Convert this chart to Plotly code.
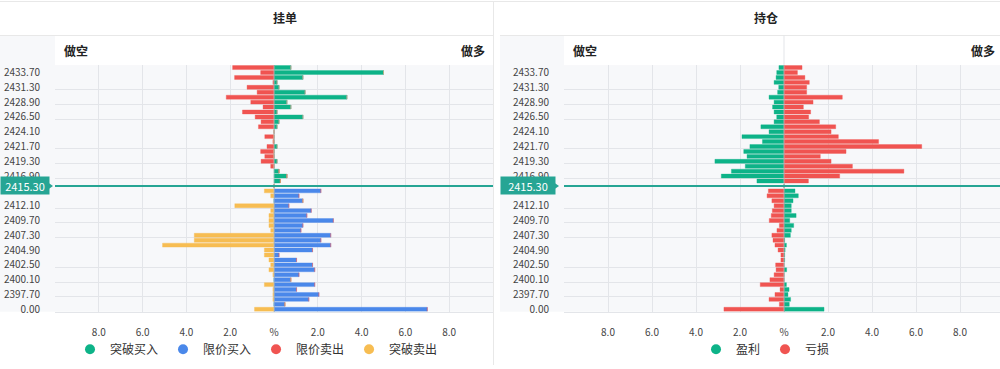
import plotly.graph_objects as go

# ---------------- data ----------------
prices = ["0.00", "2396.10", "2396.90", "2397.70", "2398.50", "2399.30", "2400.10", "2400.90", "2401.70", "2402.50",
          "2403.30", "2404.10", "2404.90", "2405.70", "2406.50", "2407.30", "2408.10", "2408.90", "2409.70", "2410.50",
          "2411.30", "2412.10", "2412.90", "2413.70", "2414.50", "2415.30", "2416.10", "2416.90", "2417.70", "2418.50",
          "2419.30", "2420.10", "2420.90", "2421.70", "2422.50", "2423.30", "2424.10", "2424.90", "2425.70", "2426.50",
          "2427.30", "2428.10", "2428.90", "2429.70", "2430.50", "2431.30", "2432.10", "2432.90", "2433.70", "2434.50"]
current_price = "2415.30"

# 挂单 (orders, % of total)
breakout_buy = [0, 0, 0, 0, 0, 0, 0, 0, 0, 0,
                0, 0, 0, 0, 0, 0, 0, 0, 0, 0,
                0, 0, 0, 0, 0, 0, 0.29, 0.59, 0.23, 0,
                0.14, 0, 0, 0.14, 0, 0, 0, 0.14, 0.23, 1.32,
                0.14, 0.77, 0.59, 3.33, 1.42, 0.23, 0.14, 1.32, 5.0, 0.77]
limit_buy = [7.0, 0.5, 1.59, 2.05, 1.03, 1.86, 0.77, 1.14, 1.86, 1.76,
             1.03, 0.23, 1.76, 2.59, 2.14, 2.59, 1.23, 1.32, 2.71, 1.5,
             1.70, 0.68, 1.32, 1.14, 2.14, 0, 0, 0, 0, 0,
             0, 0, 0, 0, 0, 0, 0, 0, 0, 0,
             0, 0, 0, 0, 0, 0, 0, 0, 0, 0]
limit_sell = [0, 0, 0, 0, 0, 0, 0, 0, 0, 0,
              0, 0, 0, 0, 0, 0, 0, 0, 0, 0,
              0, 0, 0, 0, 0, 0, 0, 0, 0, 0.15,
              0.59, 0.42, 0.61, 0.32, 0.05, 0.42, 0, 0.71, 0.59, 0.86,
              1.44, 0.50, 1.06, 2.18, 0.77, 1.23, 0.05, 1.80, 0.61, 1.89]
breakout_sell = [0.89, 0, 0.05, 0.05, 0.05, 0.44, 0, 0.05, 0.23, 0.15,
                 0.23, 0.44, 0.44, 5.09, 3.64, 3.64, 0.15, 0.23, 0.23, 0.23,
                 0.15, 1.79, 0, 0.15, 0.44, 0, 0, 0, 0, 0,
                 0, 0, 0, 0, 0, 0, 0, 0, 0, 0,
                 0, 0, 0, 0, 0, 0, 0, 0, 0, 0]

# 持仓 (positions, % of total)
profit = [1.82, 0.24, 0.30, 0.18, 0.23, 0.11, 0, 0, 0.12, 0,
          0.03, 0.03, 0.05, 0.11, 0.03, 0.29, 0.33, 0.44, 0.26, 0.55,
          0.33, 0.33, 0.41, 0.65, 0.50, 0, 1.23, 2.85, 2.39, 1.76,
          3.14, 1.68, 1.83, 1.55, 0.98, 1.91, 0.68, 1.05, 0.45, 0.33,
          0.45, 0.52, 0.45, 0.68, 0.29, 0.24, 0.45, 0.36, 0.33, 0.23]
loss = [2.73, 0.21, 0.68, 0.41, 0.18, 1.08, 0.64, 0.45, 0.36, 0.38,
        0.14, 0.14, 0.27, 0.41, 0.50, 0.55, 0.32, 0.21, 0.67, 0.58,
        0.53, 0.45, 0.55, 0.77, 0.71, 0, 1.11, 2.53, 5.45, 3.11,
        2.14, 1.65, 2.82, 6.26, 4.30, 2.47, 2.14, 2.35, 1.61, 1.12,
        1.21, 0.88, 1.32, 2.65, 1.03, 1.03, 1.15, 0.95, 0.61, 0.82]

x_tickvals = [-8, -6, -4, -2, 0, 2, 4, 6, 8]
x_ticktext = ["8.0", "6.0", "4.0", "2.0", "%", "2.0", "4.0", "6.0", "8.0"]

# ---------------- styling ----------------
GREEN = "#0DB388"
BLUE = "#4A88EA"
RED = "#F05451"
ORANGE = "#F7BD52"
TEAL = "#26A594"
GRID = "#E3E5E9"
BG = "#F7F8FA"
FONT = "Noto Sans CJK SC, Noto Sans, sans-serif"

W, H = 1000, 369
PLOT_TOP, PLOT_BOTTOM = 65, 315
HEAD = 35
yd = [(H - PLOT_BOTTOM) / H, (H - PLOT_TOP) / H]
yhead = (H - HEAD) / H

idx = list(range(len(prices)))
cur = prices.index(current_price)
# every third price is labelled; the one hidden under the current-price tag is skipped
label_idx = [i for i in range(0, len(prices), 3) if abs(i - cur) > 1]
bounds = [3 * k - 0.5 for k in range(1, len(prices) // 3 + 1) if k % 4 != 0]

fig = go.Figure()


def bar(x, color, edge, name, xa, ya, lg):
    fig.add_trace(go.Bar(
        y=idx, x=x, orientation="h", name=name, xaxis=xa, yaxis=ya,
        marker=dict(color=color, line=dict(color=edge, width=1)),
        showlegend=False, legendgroup=name, hoverinfo="x+name"))
    fig.add_trace(go.Scatter(
        x=[None], y=[None], mode="markers", name=name, xaxis=xa, yaxis=ya,
        marker=dict(color=color, size=10, symbol="circle"),
        legendgroup=name, legend=lg, showlegend=True))


# left panel
bar(breakout_buy, GREEN, "rgba(13,179,136,0.35)", "突破买入", "x", "y", "legend")
bar(limit_buy, BLUE, "rgba(74,136,234,0.35)", "限价买入", "x", "y", "legend")
bar([-v for v in limit_sell], RED, "rgba(240,84,81,0.35)", "限价卖出", "x", "y", "legend")
bar([-v for v in breakout_sell], ORANGE, "rgba(247,189,82,0.35)", "突破卖出", "x", "y", "legend")

# right panel: above current price shorts are in profit, longs in loss
profit_x = [-v if i > cur else v for i, v in enumerate(profit)]
loss_x = [v if i > cur else -v for i, v in enumerate(loss)]
bar(profit_x, GREEN, "rgba(13,179,136,0.35)", "盈利", "x2", "y2", "legend2")
bar(loss_x, RED, "rgba(240,84,81,0.35)", "亏损", "x2", "y2", "legend2")

xcommon = dict(tickmode="array", tickvals=x_tickvals, ticktext=x_ticktext,
               showgrid=True, gridcolor=GRID, gridwidth=1, zeroline=True, zerolinecolor="#D5D8DD",
               zerolinewidth=1, showline=True, linecolor=GRID, linewidth=1, ticks="",
               tickfont=dict(size=10, color="#444", family=FONT), ticklabelstandoff=11, fixedrange=True)
ycommon = dict(range=[-0.5, len(prices) - 0.5], tickmode="array", tickvals=label_idx,
               ticktext=[prices[i] for i in label_idx], showgrid=False, zeroline=False,
               ticks="", tickfont=dict(size=10, color="#444", family=FONT), ticklabelstandoff=14,
               minor=dict(tickmode="array", tickvals=bounds, showgrid=True, gridcolor=GRID, gridwidth=1, ticks=""),
               domain=yd, fixedrange=True)

fig.update_layout(
    width=W, height=H, margin=dict(l=0, r=0, t=0, b=0),
    paper_bgcolor="white", plot_bgcolor=BG,
    barmode="relative", bargap=0.2,
    font=dict(family=FONT, size=12, color="#333"),
    xaxis=dict(domain=[55 / W, 493 / W], range=[-10, 10], anchor="y", **xcommon),
    yaxis=dict(anchor="x", **ycommon),
    xaxis2=dict(domain=[564 / W, 1.0], range=[-10, (1000 - 784) / 22], anchor="y2", **xcommon),
    yaxis2=dict(anchor="x2", **ycommon),
    legend=dict(orientation="h", x=0.070, xanchor="left", y=16 / H, yanchor="middle",
                font=dict(size=12, color="#333", family=FONT), bgcolor="rgba(0,0,0,0)",
                itemclick=False, itemdoubleclick=False),
    legend2=dict(orientation="h", x=0.696, xanchor="left", y=16 / H, yanchor="middle",
                 font=dict(size=12, color="#333", family=FONT), bgcolor="rgba(0,0,0,0)",
                 itemclick=False, itemdoubleclick=False),
)

shapes = []
# label column backgrounds
for x0, x1 in [(0, 55), (500, 564)]:
    shapes.append(dict(type="rect", xref="paper", yref="paper", x0=x0 / W, x1=x1 / W, y0=yd[0], y1=yhead,
                       fillcolor=BG, line=dict(width=0), layer="below"))
# panel borders
shapes.append(dict(type="line", xref="paper", yref="paper", x0=0, x1=1, y0=1 - 0.5 / H, y1=1 - 0.5 / H,
                   line=dict(color="#E8E8E8", width=1)))
for x0, x1 in [(0, 493), (500, 1000)]:
    shapes.append(dict(type="line", xref="paper", yref="paper", x0=x0 / W, x1=x1 / W, y0=yhead, y1=yhead,
                       line=dict(color="#E8E8E8", width=1)))
shapes.append(dict(type="line", xref="paper", yref="paper", x0=493.5 / W, x1=493.5 / W, y0=0, y1=1,
                   line=dict(color="#E8E8E8", width=1)))
# header centre divider in 持仓
shapes.append(dict(type="line", xref="x2", yref="paper", x0=0, x1=0, y0=yd[1], y1=yhead,
                   line=dict(color="#E3E5E9", width=1)))
# centre lines over bars
for xr, yr in [("x", "y"), ("x2", "y2")]:
    shapes.append(dict(type="line", xref=xr, yref=yr + " domain", x0=0, x1=0, y0=0, y1=1,
                       line=dict(color="rgba(190,194,200,0.7)", width=1), layer="above"))
    # current price line
    shapes.append(dict(type="line", xref=xr + " domain", yref=yr, x0=0, x1=1, y0=cur, y1=cur,
                       line=dict(color=TEAL, width=2), layer="above"))
# price label pointers
for px in [48, 554]:
    shapes.append(dict(type="path", xref="paper", yref="y",
                       path=f"M {px / W} {cur + 0.7} L {(px + 5) / W} {cur} L {px / W} {cur - 0.7} Z",
                       fillcolor=TEAL, line=dict(width=0), layer="above"))
fig.update_layout(shapes=shapes)

ann = []
for px, yr in [(0, "y"), (500, "y2")]:
    ann.append(dict(x=px / W, xref="paper", y=cur, yref=yr, xanchor="left", yanchor="middle",
                    text=current_price, showarrow=False, bgcolor=TEAL, borderpad=0,
                    width=48 if px == 0 else 54, height=17, align="center",
                    font=dict(size=11, color="white", family=FONT)))
# titles
ann.append(dict(x=271 / W, y=1 - 17 / H, xref="paper", yref="paper", yanchor="middle", text="<b>挂单</b>",
                showarrow=False, font=dict(size=12, color="#222", family=FONT)))
ann.append(dict(x=780 / W, y=1 - 17 / H, xref="paper", yref="paper", yanchor="middle", text="<b>持仓</b>",
                showarrow=False, font=dict(size=12, color="#222", family=FONT)))
for x, anchor, txt in [(62, "left", "做空"), (487, "right", "做多"), (571, "left", "做空"), (997, "right", "做多")]:
    ann.append(dict(x=x / W, y=1 - 50 / H, xref="paper", yref="paper", xanchor=anchor, yanchor="middle",
                    text=f"<b>{txt}</b>", showarrow=False, font=dict(size=12, color="#222", family=FONT)))
fig.update_layout(annotations=ann)

fig.write_html("out.html")
